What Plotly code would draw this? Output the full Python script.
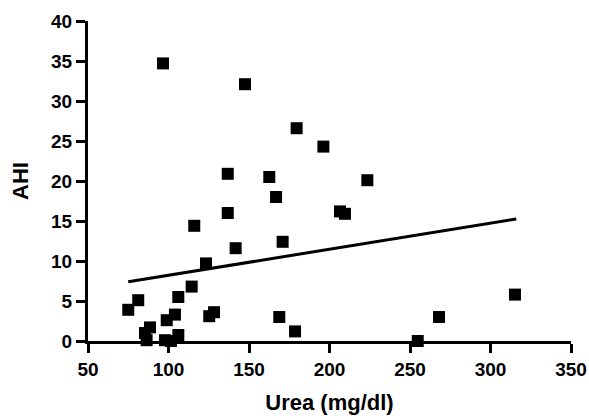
import plotly.graph_objects as go

urea = [96.6, 147.5, 179.6, 196.2, 223.5, 206.5, 209.6, 136.8, 162.6, 166.8,
        136.8, 116.0, 141.7, 170.9, 123.3, 114.4, 106.1, 81.2, 75.0, 104.0,
        98.9, 125.3, 128.3, 88.5, 85.4, 86.4, 97.8, 106.1, 101.5, 168.8,
        178.6, 254.8, 268.0, 315.2]
ahi = [34.7, 32.1, 26.6, 24.3, 20.1, 16.2, 15.9, 20.9, 20.5, 18.0,
       16.0, 14.4, 11.6, 12.4, 9.7, 6.8, 5.5, 5.1, 3.9, 3.3,
       2.6, 3.1, 3.6, 1.7, 1.0, 0.1, 0.1, 0.75, 0.0, 3.0,
       1.2, 0.0, 3.0, 5.8]

fit_x = [75, 316]
fit_y = [7.4, 15.25]

x_ticks = [50, 100, 150, 200, 250, 300, 350]
y_ticks = [0, 5, 10, 15, 20, 25, 30, 35, 40]

font_family = "Liberation Sans, Arial, sans-serif"

fig = go.Figure()
fig.add_trace(go.Scatter(x=urea, y=ahi, mode="markers",
                         marker=dict(symbol="square", size=12, color="black",
                                     line=dict(width=0)),
                         cliponaxis=False, showlegend=False))
fig.add_trace(go.Scatter(x=fit_x, y=fit_y, mode="lines",
                         line=dict(color="black", width=3),
                         cliponaxis=False, showlegend=False))

axis_common = dict(showgrid=False, zeroline=False, showline=True,
                   linecolor="black", linewidth=3, ticks="outside",
                   ticklen=9, tickwidth=3, tickcolor="black", automargin=False,
                   tickfont=dict(family=font_family, size=19, color="black", weight="bold"))

fig.update_layout(
    width=589, height=420,
    margin=dict(l=88, r=18, t=21, b=79),
    paper_bgcolor="white", plot_bgcolor="white",
    xaxis=dict(range=[50, 350], tickvals=x_ticks,
               ticktext=["<b>%d</b>" % v for v in x_ticks],
               title=dict(text="<b>Urea (mg/dl)</b>", standoff=16,
                          font=dict(family=font_family, size=22, color="black")),
               **axis_common),
    yaxis=dict(range=[0, 40], tickvals=y_ticks,
               ticktext=["<b>%d</b>" % v for v in y_ticks],
               title=dict(text="<b>AHI</b>", standoff=17,
                          font=dict(family=font_family, size=22, color="black")),
               **axis_common),
)

fig.write_html("out.html", config={"displayModeBar": False},
               post_script="document.body.style.margin='0';document.body.style.padding='0';")
